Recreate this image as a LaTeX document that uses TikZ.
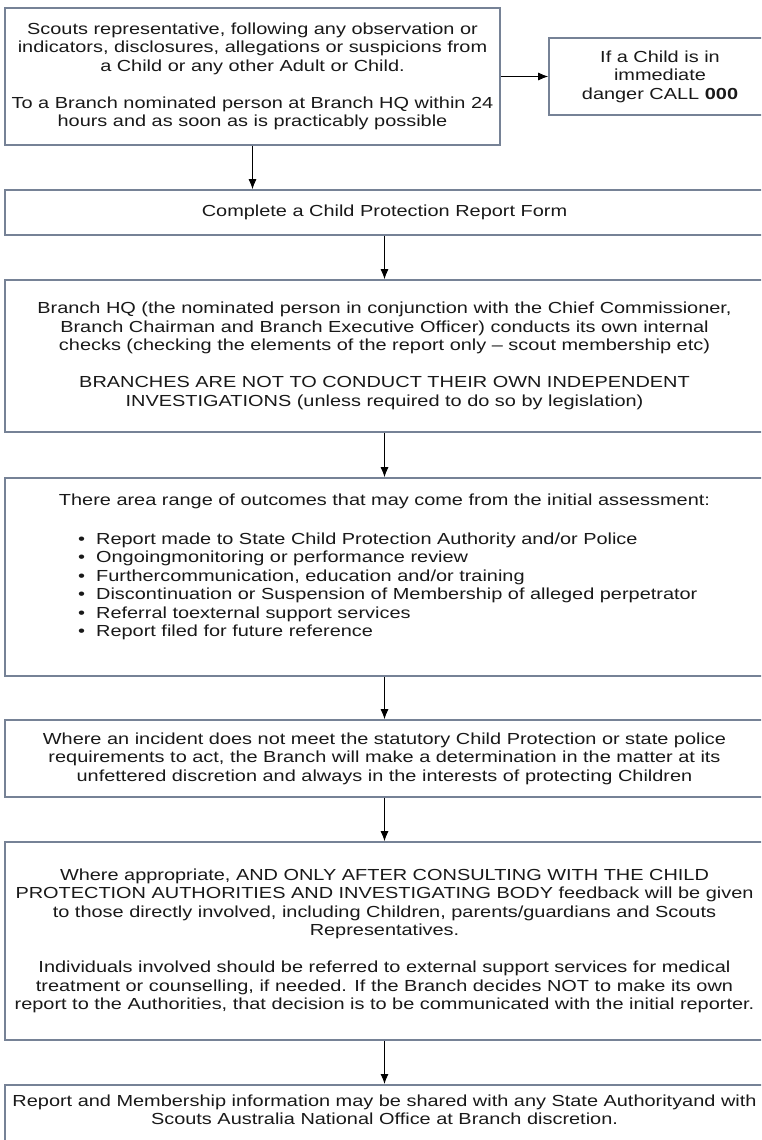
\documentclass[tikz,border=0pt]{standalone}
\usepackage{fontspec}
\setmainfont{Liberation Sans}[FakeStretch=1.245]
\usetikzlibrary{arrows.meta}
\definecolor{bordc}{RGB}{118,130,150}
\definecolor{txtc}{RGB}{25,25,25}
\tikzset{
  box/.style={draw=bordc, line width=1.6pt, rectangle, inner sep=0pt, align=center,
    text=txtc, font=\fontsize{16}{18.5}\selectfont},
  txt/.style={inner sep=0pt, text=txtc, font=\fontsize{16}{18.5}\selectfont},
  arr/.style={-{Latex[length=10pt,width=8pt]}, line width=1pt, black},
}
\begin{document}
\begin{tikzpicture}[x=1pt,y=-1pt]
\clip (0,0) rectangle (761,1140);
\fill[white] (0,0) rectangle (761,1140);
% boxes
\node[box, minimum width=495pt, minimum height=137pt] (b1) at (252.5,76.5)
 {Scouts representative, following any observation or\\
  indicators, disclosures, allegations or suspicions from\\
  a Child or any other Adult or Child.\\[18.5pt]
  To a Branch nominated person at Branch HQ within 24\\
  hours and as soon as is practicably possible};
\node[box, minimum width=222pt, minimum height=77pt] (dg) at (660,76.5)
 {If a Child is in\\ immediate\\ danger CALL \textbf{000}};
\node[box, minimum width=759pt, minimum height=45pt] (b2) at (384.5,212.5)
 {Complete a Child Protection Report Form};
\node[box, minimum width=759pt, minimum height=152pt] (b3) at (384.5,356)
 {Branch HQ (the nominated person in conjunction with the Chief Commissioner,\\
  Branch Chairman and Branch Executive Officer) conducts its own internal\\
  checks (checking the elements of the report only -- scout membership etc)\\[18.5pt]
  BRANCHES ARE NOT TO CONDUCT THEIR OWN INDEPENDENT\\
  INVESTIGATIONS (unless required to do so by legislation)};
\node[box, minimum width=759pt, minimum height=198pt] (b4) at (384.5,577) {};
\node[txt] (b4t) at (384.5,501)
 {There area range of outcomes that may come from the initial assessment:};
\node[txt, anchor=west] (b4l) at (78,587)
 {\begin{tabular}{@{}l@{\hspace{11pt}}l@{}}
  \textbullet & Report made to State Child Protection Authority and/or Police\\
  \textbullet & Ongoingmonitoring or performance review\\
  \textbullet & Furthercommunication, education and/or training\\
  \textbullet & Discontinuation or Suspension of Membership of alleged perpetrator\\
  \textbullet & Referral toexternal support services\\
  \textbullet & Report filed for future reference
  \end{tabular}};
\node[box, minimum width=759pt, minimum height=77pt] (b5) at (384.5,758.5)
 {Where an incident does not meet the statutory Child Protection or state police\\
  requirements to act, the Branch will make a determination in the matter at its\\
  unfettered discretion and always in the interests of protecting Children};
\node[box, minimum width=759pt, minimum height=198pt] (b6) at (384.5,941)
 {Where appropriate, AND ONLY AFTER CONSULTING WITH THE CHILD\\
  PROTECTION AUTHORITIES AND INVESTIGATING BODY feedback will be given\\
  to those directly involved, including Children, parents/guardians and Scouts\\
  Representatives.\\[18.5pt]
  Individuals involved should be referred to external support services for medical\\
  treatment or counselling, if needed. If the Branch decides NOT to make its own\\
  report to the Authorities, that decision is to be communicated with the initial reporter.};
\node[box, minimum width=759pt, minimum height=80pt, anchor=north] (b7) at (384.5,1084) {};
\node[txt, align=center] (b7t) at (384.5,1110)
 {Report and Membership information may be shared with any State Authorityand with\\
  Scouts Australia National Office at Branch discretion.};
% arrows
\draw[arr] (b1.east) -- (dg.west |- b1.east);
\draw[arr] (b1.south) -- (b1.south |- b2.north);
\draw[arr] (b2.south) -- (b3.north);
\draw[arr] (b3.south) -- (b4.north);
\draw[arr] (b4.south) -- (b5.north);
\draw[arr] (b5.south) -- (b6.north);
\draw[arr] (b6.south) -- (b7.north);
\end{tikzpicture}
\end{document}
